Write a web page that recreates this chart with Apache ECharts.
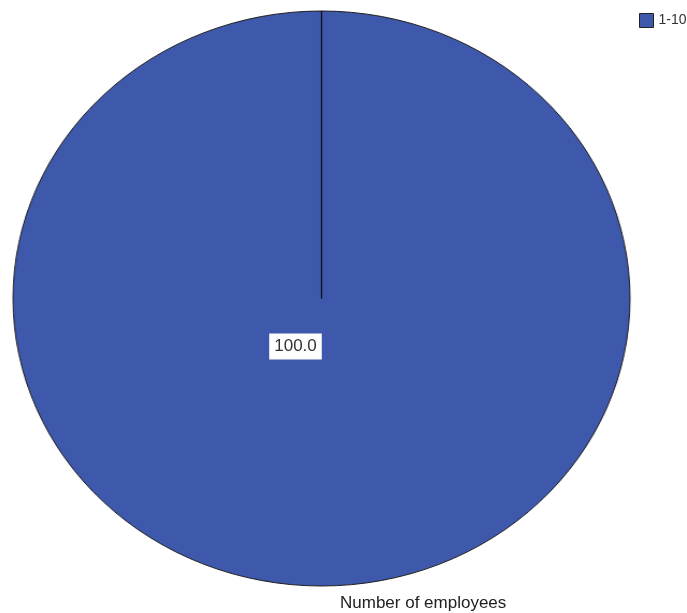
<!DOCTYPE html>
<html>
<head>
<meta charset="utf-8">
<script src="https://cdn.jsdelivr.net/npm/echarts@6/dist/echarts.min.js"></script>
<style>
  html, body { margin: 0; padding: 0; background: #fff; }
  #wrap { position: relative; width: 687px; height: 613px; overflow: hidden; background: #fff; }
  /* the pie is drawn as a circle and stretched horizontally into an ellipse */
  #pie { position: absolute; left: 0; top: 0; width: 687px; height: 613px;
         transform: scaleX(1.073); transform-origin: 321.5px 298.5px; }
  #overlay { position: absolute; left: 0; top: 0; width: 687px; height: 613px; }
</style>
</head>
<body>
<div id="wrap"><div id="pie"></div><div id="overlay"></div></div>
<script>
const categories = ['1-10'];
const percents = [100.0];
const chartTitle = 'Number of employees';

const sliceColors = ['#3E58AC'];
const pieCenter = [321.5, 298.5];
const pieRadius = 287.5;
const fontFamily = 'Arial, "Liberation Sans", sans-serif';

const seriesData = categories.map((c, i) => ({ name: c, value: percents[i] }));

// ---- ellipse layer ----
const pieChart = echarts.init(document.getElementById('pie'), null, { renderer: 'canvas' });
pieChart.setOption({
  animation: false,
  color: sliceColors,
  series: [{
    type: 'pie',
    center: pieCenter,
    radius: pieRadius,
    startAngle: 90,
    clockwise: true,
    silent: true,
    label: { show: false },
    labelLine: { show: false },
    itemStyle: { borderColor: '#1c1c1c', borderWidth: 1 },
    data: seriesData
  }]
});

// slice boundary at the start angle, taken from the pie's own layout
try {
  const data = pieChart.getModel().getSeriesByIndex(0).getData();
  const lines = [];
  for (let i = 0; i < data.count(); i++) {
    const l = data.getItemLayout(i);
    lines.push({
      type: 'line',
      silent: true,
      z: 100,
      shape: { x1: l.cx, y1: l.cy,
               x2: l.cx + l.r * Math.cos(l.startAngle),
               y2: l.cy + l.r * Math.sin(l.startAngle) },
      style: { stroke: '#111', lineWidth: 1.2 }
    });
  }
  pieChart.setOption({ graphic: lines });
} catch (e) { /* layout not available */ }

// ---- labels, legend and title layer ----
const overlay = echarts.init(document.getElementById('overlay'), null, { renderer: 'canvas' });
overlay.setOption({
  animation: false,
  backgroundColor: 'transparent',
  title: {
    text: chartTitle,
    left: 335,
    top: 590,
    textStyle: { fontFamily, fontSize: 17, fontWeight: 'normal', color: '#222' }
  },
  legend: {
    left: 634,
    top: 8,
    orient: 'vertical',
    selectedMode: false,
    itemWidth: 14,
    itemHeight: 14,
    itemGap: 6,
    textStyle: { fontFamily, fontSize: 14, color: '#333' },
    data: categories.map((c, i) => ({
      name: c,
      icon: 'rect',
      itemStyle: { color: sliceColors[i], borderColor: '#222', borderWidth: 1 }
    }))
  },
  series: [{
    type: 'pie',
    center: pieCenter,
    radius: pieRadius,
    startAngle: 90,
    silent: true,
    itemStyle: { color: 'rgba(0,0,0,0)', borderWidth: 0 },
    labelLine: { show: false },
    label: {
      show: true,
      position: 'center',
      offset: [-26, 48],
      formatter: p => p.value.toFixed(1),
      fontFamily,
      fontSize: 17,
      color: '#333',
      backgroundColor: '#fff',
      padding: [5, 5, 4, 5]
    },
    data: seriesData
  }]
});
</script>
</body>
</html>
